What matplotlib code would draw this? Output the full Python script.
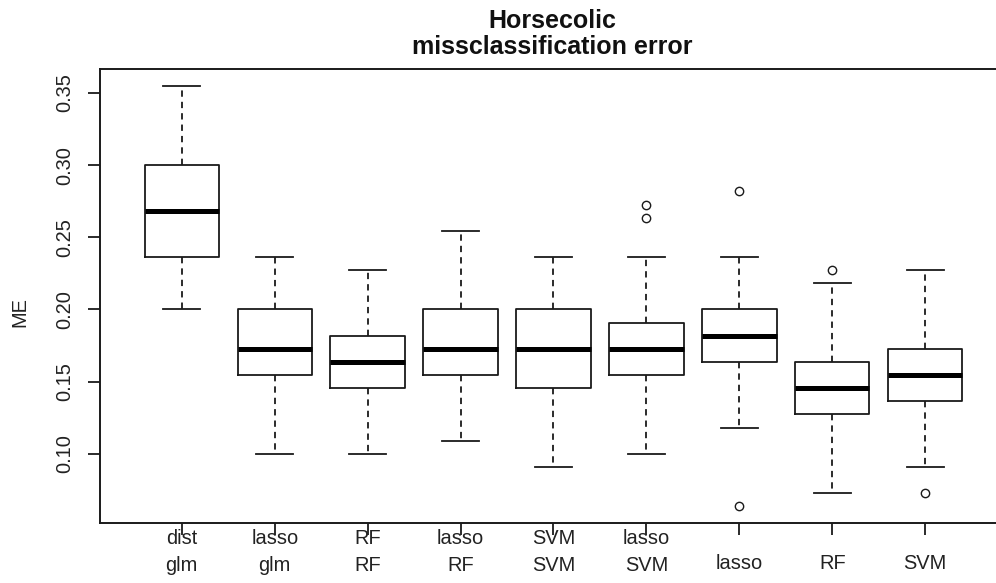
import matplotlib
matplotlib.use("Agg")
import matplotlib.pyplot as plt
from matplotlib.transforms import offset_copy

plt.rcParams['font.family'] = ['Liberation Sans', 'DejaVu Sans']

# --- data (misclassification error per method) ---
methods = ["dist\nglm", "lasso\nglm", "RF\nRF", "lasso\nRF", "SVM\nSVM",
           "lasso\nSVM", "lasso", "RF", "SVM"]
whisker_low = [0.2000, 0.1000, 0.1000, 0.1091, 0.0909, 0.1000, 0.1182, 0.0727, 0.0909]
q1 = [0.2364, 0.1545, 0.1455, 0.1545, 0.1455, 0.1545, 0.1636, 0.1273, 0.1364]
medians = [0.2682, 0.1727, 0.1636, 0.1727, 0.1727, 0.1727, 0.1818, 0.1455, 0.1545]
q3 = [0.3000, 0.2000, 0.1818, 0.2000, 0.2000, 0.1909, 0.2000, 0.1636, 0.1727]
whisker_high = [0.3545, 0.2364, 0.2273, 0.2545, 0.2364, 0.2364, 0.2364, 0.2182, 0.2273]
outliers = [[], [], [], [], [], [0.2727, 0.2636], [0.2818, 0.0636], [0.2273], [0.0727]]
yticks = [0.10, 0.15, 0.20, 0.25, 0.30, 0.35]

stats = []
for i in range(len(methods)):
    stats.append({"med": medians[i], "q1": q1[i], "q3": q3[i],
                  "whislo": whisker_low[i], "whishi": whisker_high[i],
                  "fliers": outliers[i]})

W, H = 996, 583
fig = plt.figure(figsize=(W / 100, H / 100), dpi=100)
ax = fig.add_axes([100 / W, (H - 523) / H, 907 / W, (523 - 69) / H])

lw = 1.3
positions = list(range(1, len(methods) + 1))
ax.bxp(stats, positions=positions, widths=0.8, showfliers=True,
       boxprops=dict(color="#1a1a1a", linewidth=lw),
       medianprops=dict(color="black", linewidth=3.6, solid_capstyle="butt"),
       whiskerprops=dict(color="#1a1a1a", linewidth=lw, linestyle=(0, (3.5, 2.8))),
       capprops=dict(color="#1a1a1a", linewidth=lw),
       capwidths=0.4,
       flierprops=dict(marker="o", markersize=6, markerfacecolor="none",
                       markeredgecolor="#1a1a1a", markeredgewidth=1.0))

ax.set_xlim(0.12, 9.88)
ax.set_ylim(0.0521, 0.3666)

for s in ax.spines.values():
    s.set_linewidth(1.4)
    s.set_color("#1a1a1a")

fs = 14.4
ax.set_yticks(yticks)
ax.set_yticklabels([f"{v:.2f}" for v in yticks], rotation=90, fontsize=fs,
                   color="#222222")
ax.tick_params(axis="y", direction="out", length=8.6, width=1.3, pad=16.6,
               color="#1a1a1a")
for lab in ax.get_yticklabels():
    lab.set_ha("center")
    lab.set_va("center")

ax.set_xticks(positions)
ax.set_xticklabels([])
ax.tick_params(axis="x", direction="out", length=8.6, width=1.3, color="#1a1a1a")

# category labels, R-style: two-line names vs one-line names
xt = ax.get_xaxis_transform()
for x, name in zip(positions, methods):
    lines = name.split("\n")
    if len(lines) == 2:
        offs = [15.1, 34.6]
    else:
        offs = [33.1]
    for line, off in zip(lines, offs):
        tr = offset_copy(xt, fig=fig, y=-off, units="points")
        ax.text(x, 0, line, transform=tr, ha="center", va="baseline",
                fontsize=fs, color="#222222")

# y label
fig.text(20 / W, 1 - 312 / H, "ME", rotation=90, ha="center", va="center",
         fontsize=fs, color="#222222")

# title
fig.text(552 / W, 1 - 54 / H, "Horsecolic\nmissclassification error",
         ha="center", va="baseline", fontsize=18, fontweight="bold",
         linespacing=1.1, multialignment="center", color="#111111")

fig.savefig("out.png", dpi=100)
